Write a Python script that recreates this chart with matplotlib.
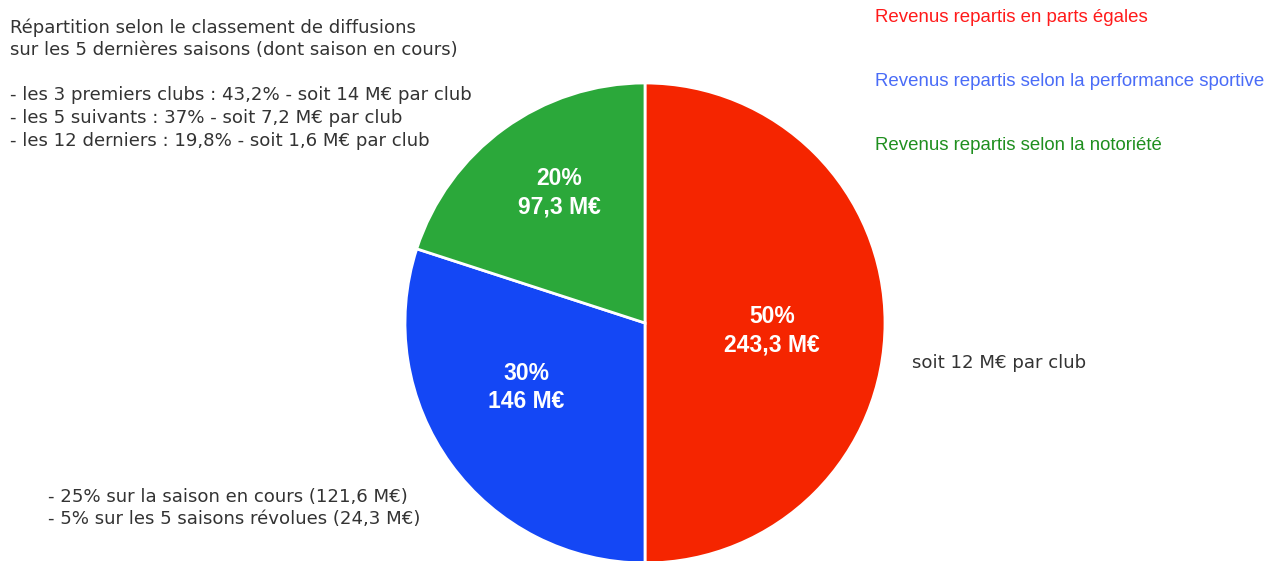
import matplotlib.pyplot as plt
from matplotlib import font_manager

# data
shares = [50, 30, 20]
amounts = ['243,3 M€', '146 M€', '97,3 M€']
wedge_colors = ['#f52500', '#1447f5', '#2ba83a']
legend_labels = ['Revenus repartis en parts égales',
                 'Revenus repartis selon la performance sportive',
                 'Revenus repartis selon la notoriété']
legend_colors = ['#ff1a1a', '#4a6cf7', '#1f8f1f']

notes_top = ['Répartition selon le classement de diffusions',
             'sur les 5 dernières saisons (dont saison en cours)',
             '',
             '- les 3 premiers clubs : 43,2% - soit 14 M€ par club',
             '- les 5 suivants : 37% - soit 7,2 M€ par club',
             '- les 12 derniers : 19,8% - soit 1,6 M€ par club']
notes_bottom = ['- 25% sur la saison en cours (121,6 M€)',
                '- 5% sur les 5 saisons révolues (24,3 M€)']
note_right = 'soit 12 M€ par club'

# pick the regular-width Liberation Sans Bold (not the Narrow one)
bold_file = None
for f in font_manager.fontManager.ttflist:
    if f.name == 'Liberation Sans' and f.weight in (700, 'bold') and f.style == 'normal' \
            and 'Narrow' not in f.fname:
        bold_file = f.fname
        break
if bold_file:
    bold_font = font_manager.FontProperties(fname=bold_file, size=16.5)
else:
    bold_font = font_manager.FontProperties(family='DejaVu Sans', weight='bold', size=15)

W, H = 1267, 561
fig = plt.figure(figsize=(W / 100, H / 100), dpi=100)
fig.patch.set_facecolor('white')

# pie axes placed in pixels: center (645, 323), radius 240
cx, cy, r = 645, 323, 240
ax = fig.add_axes([(cx - r) / W, (H - cy - r) / H, 2 * r / W, 2 * r / H])
wedges, _ = ax.pie(shares, colors=wedge_colors, startangle=90, counterclock=False,
                   radius=1, wedgeprops=dict(edgecolor='white', linewidth=2))
ax.set_xlim(-1, 1)
ax.set_ylim(-1, 1)
ax.axis('off')

# wedge labels
label_pos = [(0.53, -0.033), (-0.496, -0.269), (-0.358, 0.544)]
for s, a, (x, y) in zip(shares, amounts, label_pos):
    ax.text(x, y, f'{s}%\n{a}', ha='center', va='center', color='white',
            fontproperties=bold_font, linespacing=1.3)

txt_color = '#333333'
note_size = 13.1


def put_lines(lines, x, y0, step=22.6):
    # one text per line, centred vertically on its pixel row
    for i, line in enumerate(lines):
        if line:
            fig.text(x / W, 1 - (y0 + step * i) / H, line, ha='left', va='center',
                     fontsize=note_size, color=txt_color, family='DejaVu Sans')


put_lines(notes_top, 10, 27.5)
put_lines(notes_bottom, 48, 497.5, step=21.5)
put_lines([note_right], 912, 363)

# right legend texts
for i, (lab, col) in enumerate(zip(legend_labels, legend_colors)):
    fig.text(875 / W, 1 - (17.5 + 64 * i) / H, lab, ha='left', va='center',
             fontsize=13.4, color=col, family='Liberation Sans')

fig.savefig('out.png', dpi=100, facecolor='white')
